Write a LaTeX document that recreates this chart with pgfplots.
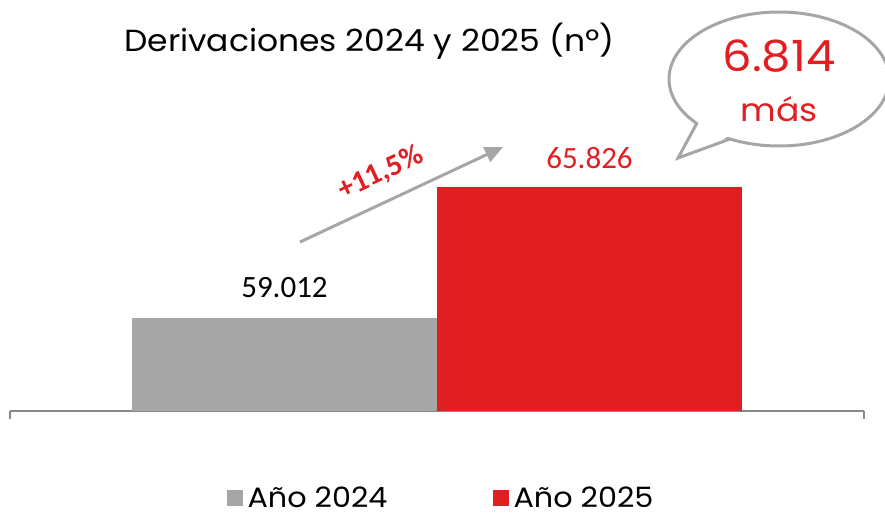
\documentclass[border=0pt]{standalone}
\usepackage{fontspec}
\setmainfont{Poppins}
\newfontfamily\futura{Poppins}[FakeStretch=1.08]
\newfontfamily\calib{Carlito}
\usepackage{pgfplots}
\pgfplotsset{compat=1.18}
\usetikzlibrary{arrows.meta}
\definecolor{redbar}{RGB}{225,30,34}
\definecolor{graybar}{RGB}{166,166,166}
\definecolor{axgray}{RGB}{137,137,137}
\begin{document}
\begin{tikzpicture}[x=1pt,y=1pt]
\useasboundingbox (0,0) rectangle (885,515);
\begin{axis}[
  at={(10pt,104pt)}, anchor=south west,
  scale only axis, width=854pt, height=311pt,
  xmin=-0.9, xmax=1.9, ymin=54174, ymax=70352,
  axis x line=bottom, axis y line=none,
  axis line style={axgray, line width=2pt, -},
  xtick={-0.9,1.9}, xticklabels={}, major tick length=8pt, tick align=outside,
  tick style={axgray, line width=2pt},
  ytick=\empty,
  /pgf/number format/.cd, 1000 sep={.}, assume math mode=true, /pgfplots/.cd,
  legend style={at={(0.5047,-0.281)}, anchor=center, draw=none, fill=none,
    legend columns=2, font=\futura\fontsize{28}{28}\selectfont,
    nodes={inner ysep=1pt},
    /tikz/every even column/.append style={column sep=103pt}},
]
\addplot[ybar, bar width=1, bar shift=0pt, fill=graybar, draw=none,
  nodes near coords,
  nodes near coords style={font=\calib\fontsize{31}{31}\selectfont, text=black, anchor=base, yshift=20pt},
  legend image code/.code={\fill[graybar] (0pt,-8pt) rectangle (16pt,8pt); \path (19pt,0pt);}]
  coordinates {(0,59012)};
\addlegendentry{Año 2024}
\addplot[ybar, bar width=1, bar shift=0pt, fill=redbar, draw=none,
  nodes near coords,
  nodes near coords style={font=\calib\fontsize{31}{31}\selectfont, text=redbar, anchor=base, yshift=19pt},
  legend image code/.code={\fill[redbar] (0pt,-8pt) rectangle (16pt,8pt); \path (19pt,0pt);}]
  coordinates {(1,65826)};
\addlegendentry{Año 2025}
\end{axis}
% title
\node[anchor=base, font=\futura\fontsize{30.5}{30.5}\selectfont] at (369.5,463) {Derivaciones 2024 y 2025 (nº)};
% growth arrow
\draw[graybar, line width=3pt, -{Triangle[length=18pt,width=16pt]}] (300,273) -- (503,368);
\node[rotate=25, text=redbar, font=\calib\bfseries\fontsize{30}{30}\selectfont] at (381,342) {+11,5\%};
% speech bubble
\draw[graybar, line width=3pt, fill=white] (779,436) ellipse [x radius=110, y radius=67];
\fill[white] (700,395) -- (678,357) -- (732,380) -- cycle;
\draw[graybar, line width=3pt, line join=miter] (697,392) -- (678,357) -- (730,376);
\node[anchor=base, text=redbar, font=\futura\fontsize{43}{43}\selectfont] at (779,443) {6.814};
\node[anchor=base, text=redbar, font=\futura\fontsize{32}{32}\selectfont] at (779,393) {más};
\end{tikzpicture}
\end{document}
